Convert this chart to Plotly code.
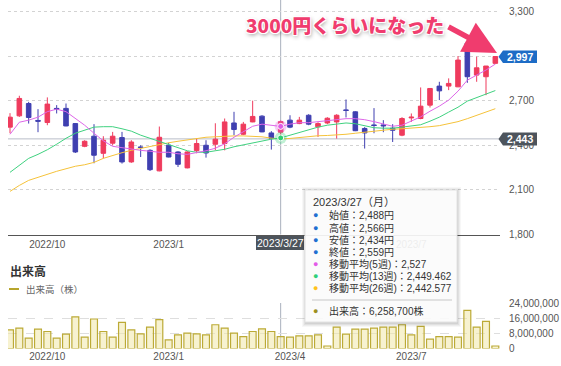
import plotly.graph_objects as go
import pandas as pd

# ---------------- data (weekly, Mondays) ----------------
week_start = "2022-09-05"
n_weeks = 53
open_ = [2522,2598,2681,2567,2553,2648,2648,2546,2393,2461,2346,2414,2452,2288,2389,2366,2228,2400,2355,2248,
         2364,2400,2407,2412,2550,2474,2557,2596,2483,2488,2569,2546,2602,2524,2550,2557,2638,2625,2513,2537,
         2537,2515,2468,2584,2580,2670,2798,2798,2793,3086,2872,2861,2951]
high = [2616,2733,2692,2643,2722,2670,2681,2548,2434,2542,2461,2490,2490,2434,2400,2373,2526,2417,2360,2360,
        2447,2434,2548,2580,2625,2557,2700,2602,2495,2566,2602,2591,2609,2555,2589,2609,2708,2629,2522,2650,
        2569,2542,2589,2614,2789,2784,2827,2850,3000,3088,2996,2933,2997]
low = [2481,2591,2546,2488,2535,2614,2528,2348,2387,2279,2312,2400,2277,2282,2321,2227,2225,2319,2254,2245,
       2346,2317,2366,2366,2468,2468,2555,2488,2371,2434,2515,2542,2535,2456,2542,2445,2587,2495,2378,2481,
       2488,2422,2461,2557,2575,2654,2704,2771,2791,2820,2827,2737,2946]
close = [2589,2715,2587,2562,2677,2643,2530,2355,2427,2333,2434,2461,2288,2422,2385,2236,2454,2321,2272,2355,
         2412,2348,2441,2557,2506,2542,2594,2490,2447,2559,2522,2569,2542,2546,2582,2602,2634,2498,2483,2533,
         2531,2501,2580,2589,2663,2782,2766,2816,2973,2861,2921,2933,2997]
ma5 = [2474,2555,2569,2589,2626,2643,2626,2582,2535,2481,2430,2393,2383,2377,2366,2360,2353,2353,2343,2339,
       2350,2363,2380,2410,2454,2491,2528,2542,2535,2527,2542,2552,2552,2559,2565,2569,2579,2579,2572,2559,
       2542,2528,2535,2562,2591,2629,2663,2704,2764,2838,2872,2906,2946]
ma13 = [2218,2265,2312,2339,2370,2407,2447,2481,2501,2522,2525,2525,2511,2495,2468,2447,2427,2407,2387,2363,
        2353,2353,2363,2373,2390,2403,2420,2429,2441,2449.462,2468,2488,2505,2522,2535,2545,2550,2545,2532,2518,
        2515,2515,2522,2528,2538,2562,2589,2623,2656,2697,2720,2744,2768]
ma26 = [2090,2130,2164,2184,2208,2225,2242,2259,2269,2285,2312,2333,2350,2366,2380,2393,2407,2417,2427,2437,
        2447,2454,2457,2461,2463,2463,2461,2457,2448,2442.577,2446,2453,2459,2464,2466,2469,2474,2481,2488,2495,
        2501,2508,2511,2515,2518,2525,2532,2545,2559,2579,2602,2626,2646]
volume = [9870000,10770000,5440000,10240000,8960000,5440000,7570000,16640000,5970000,15570000,
          8960000,5970000,13760000,9870000,7730000,11310000,15200000,4530000,7200000,8110000,
          7730000,7200000,12530000,10770000,8110000,6290000,8960000,10400000,8960000,6258700,
          5970000,6670000,6670000,7200000,1330000,11310000,7570000,10240000,10240000,10770000,
          11310000,11310000,12530000,7200000,11630000,4910000,6290000,6290000,5970000,20160000,
          11310000,14290000,1330000]
tick_dates = ["2022-10-03", "2023-01-02", "2023-04-03", "2023-07-03"]
tick_labels = ["2022/10", "2023/1", "2023/4", "2023/7"]
price_ticks = [1800, 2100, 2400, 2700, 3000, 3300]
vol_ticks = [0, 8000000, 16000000, 24000000]
hover_idx = 29
last_price = close[-1]
cross_price = 2443
callout = "3000円くらいになった"

dates = pd.date_range(week_start, periods=n_weeks, freq="7D")

# labels hidden under the hover badges in the original
price_ticktext = ["" if v == 3000 else f"{v:,}" for v in price_ticks]
top_x_ticktext = ["" if t == "2023/4" else t for t in tick_labels]

# ---------------- helpers ----------------
W, H = 561, 366
L, R = 8, 500
def px(x):
    return (x - L) / (R - L)
def py(y):
    return 1 - y / H

FONT = "Liberation Sans, Noto Sans CJK JP, sans-serif"
RED = "#ef3b5d"
BLUE = "#3f3fb0"
C5, C13, C26 = "#dd66e8", "#3fd17f", "#f5c23a"

fig = go.Figure()
fig.add_trace(go.Candlestick(
    x=dates, open=open_, high=high, low=low, close=close,
    increasing=dict(line=dict(color=RED, width=1), fillcolor=RED),
    decreasing=dict(line=dict(color=BLUE, width=1), fillcolor=BLUE),
    whiskerwidth=0, xaxis="x", yaxis="y", hoverinfo="skip"))
for vals, col in [(ma26, C26), (ma13, C13), (ma5, C5)]:
    fig.add_trace(go.Scatter(x=dates, y=vals, mode="lines",
                             line=dict(color=col, width=1), xaxis="x", yaxis="y",
                             hoverinfo="skip"))
hx = dates[hover_idx]
for val, col, halo in [(ma13[hover_idx], "#2fcf72", "rgba(47,207,114,0.3)"),
                       (ma5[hover_idx], "#e05ce6", "rgba(224,92,230,0.3)")]:
    fig.add_trace(go.Scatter(x=[hx], y=[val], mode="markers",
                             marker=dict(size=12, color=halo), xaxis="x", yaxis="y", hoverinfo="skip"))
    fig.add_trace(go.Scatter(x=[hx], y=[val], mode="markers",
                             marker=dict(size=6, color=col, line=dict(color="white", width=1)),
                             xaxis="x", yaxis="y", hoverinfo="skip"))

fig.add_trace(go.Bar(x=dates, y=volume, xaxis="x2", yaxis="y2",
                     width=7 * 24 * 3600 * 1000 * 0.74,
                     marker=dict(color="rgba(240,232,170,0.55)", line=dict(color="#bcaa36", width=1.2)),
                     hoverinfo="skip"))

xr = ["2022-09-03 12:00", "2023-09-07 12:00"]
tickfont = dict(family=FONT, size=10, color="#555")
fig.update_layout(
    template="none",
    width=W, height=H, margin=dict(l=L, r=W - R, t=0, b=0, pad=0, autoexpand=False),
    paper_bgcolor="white", plot_bgcolor="white", showlegend=False,
    font=dict(family=FONT), hovermode=False, dragmode=False,
    xaxis=dict(domain=[0, 1], anchor="y", type="date", range=xr, tickvals=tick_dates,
               ticktext=top_x_ticktext, showgrid=False, showline=True, linecolor="#555",
               linewidth=1, ticks="", tickfont=tickfont, rangeslider=dict(visible=False),
               zeroline=False, automargin=False),
    yaxis=dict(domain=[py(234.5), 1], range=[1800, 3377], side="right", tickvals=price_ticks,
               ticktext=price_ticktext, gridcolor="#d3d3d3", griddash="dot", gridwidth=1,
               showline=False, zeroline=False, ticks="outside", ticklen=6,
               tickcolor="rgba(0,0,0,0)", tickfont=tickfont, automargin=False),
    xaxis2=dict(domain=[0, 1], anchor="y2", type="date", range=xr, tickvals=tick_dates,
                ticktext=tick_labels, showgrid=False, showline=False, ticks="",
                tickfont=tickfont, zeroline=False, automargin=False),
    yaxis2=dict(domain=[py(348.5), py(303)], range=[0, 24000000], side="right",
                tickvals=vol_ticks, tickformat=",", gridcolor="#dedede", griddash="dash",
                showline=False, zeroline=False, ticks="outside", ticklen=6,
                tickcolor="rgba(0,0,0,0)", tickfont=tickfont, automargin=False),
)

shapes = []
shapes.append(dict(type="line", xref="x", yref="paper", x0=hx, x1=hx, y0=py(234.5), y1=1,
                   line=dict(color="#a9b0bd", width=1), layer="between"))
shapes.append(dict(type="line", xref="x2", yref="paper", x0=hx, x1=hx, y0=py(348.5), y1=py(303),
                   line=dict(color="#a9b0bd", width=1), layer="between"))
shapes.append(dict(type="line", xref="paper", yref="y", x0=0, x1=1, y0=cross_price, y1=cross_price,
                   line=dict(color="#b9bec8", width=1), layer="between"))
shapes.append(dict(type="line", xref="paper", yref="y", x0=0, x1=1, y0=last_price, y1=last_price,
                   line=dict(color="#8c9bd6", width=1.2, dash="dot"), layer="between"))

def badge(x0, x1, y0, y1, color, arrow=True):
    shapes.append(dict(type="rect", xref="paper", yref="paper", x0=px(x0), x1=px(x1),
                       y0=py(y1), y1=py(y0), fillcolor=color, line=dict(width=0), layer="above"))
    if arrow:
        ym = (y0 + y1) / 2
        path = f"M {px(x0-4.5)},{py(ym)} L {px(x0)},{py(y0)} L {px(x0)},{py(y1)} Z"
        shapes.append(dict(type="path", xref="paper", yref="paper", path=path,
                           fillcolor=color, line=dict(width=0), layer="above"))

badge(503, 537, 50.5, 63, "#1d6cc6")
badge(503, 537, 132.5, 145.5, "#4d545c")
badge(256, 304, 236, 250, "#4d545c", arrow=False)

bx0, bx1, by0, by1 = 305, 457, 190, 322
for d, a in [(4, 0.03), (3, 0.04), (2, 0.05), (1, 0.06)]:
    shapes.append(dict(type="rect", xref="paper", yref="paper", x0=px(bx0 - d + 1), x1=px(bx1 + d),
                       y0=py(by1 + d + 1), y1=py(by0 - d + 1), fillcolor=f"rgba(0,0,0,{a})",
                       line=dict(width=0), layer="above"))
shapes.append(dict(type="rect", xref="paper", yref="paper", x0=px(bx0), x1=px(bx1),
                   y0=py(by1), y1=py(by0), fillcolor="rgba(255,255,255,0.9)",
                   line=dict(color="#e2e2e2", width=1), layer="above"))
shapes.append(dict(type="line", xref="paper", yref="paper", x0=px(312), x1=px(452),
                   y0=py(300), y1=py(300), line=dict(color="#d8d8d8", width=1.5), layer="above"))
shapes.append(dict(type="line", xref="paper", yref="paper", x0=px(9), x1=px(19),
                   y0=py(289), y1=py(289), line=dict(color="#b7a52c", width=2)))
fig.update_layout(shapes=shapes)

ann = []
def txt(x, y, s, size=10, color="#333", anchor="left", weight="normal", family=FONT, shadow=None):
    f = dict(size=size, color=color, family=family, weight=weight)
    if shadow:
        f["shadow"] = shadow
    ann.append(dict(xref="paper", yref="paper", x=px(x), y=py(y), text=s, showarrow=False,
                    xanchor=anchor, yanchor="middle", font=f))

txt(520, 56.8, f"{last_price:,}", 10.5, "white", "center", "bold")
txt(520, 139, f"{cross_price:,}", 10.5, "white", "center", "bold")
d = dates[hover_idx]
txt(280, 243.2, f"{d.year}/{d.month}/{d.day}", 10.5, "white", "center")

wd = "月火水木金土日"[d.weekday()]
txt(311, 202, f"{d.year}/{d.month}/{d.day}（{wd}）", 11, "#333")
rows = [("#1f6fd1", f"始値：{open_[hover_idx]:,}円", 215),
        ("#1f6fd1", f"高値：{high[hover_idx]:,}円", 227.5),
        ("#1f6fd1", f"安値：{low[hover_idx]:,}円", 239.5),
        ("#1f6fd1", f"終値：{close[hover_idx]:,}円", 251.5),
        ("#e35be8", f"移動平均(5週)：{ma5[hover_idx]:,}", 263.5),
        ("#2fd07a", f"移動平均(13週)：{ma13[hover_idx]:,.3f}", 275.5),
        ("#ffc21a", f"移動平均(26週)：{ma26[hover_idx]:,.3f}", 287.5),
        ("#9c8f1e", f"出来高：{volume[hover_idx]:,}株", 311)]
for col, s, y in rows:
    txt(315, y, "●", 9, col, "center")
    txt(327, y, s, 10, "#333")

txt(8, 271, "出来高", 12, "#333", weight="bold")
txt(24, 289, "出来高（株）", 9.5, "#666")

PINK = "#f03c6e"
ann.append(dict(xref="paper", yref="paper", x=px(497), y=py(53), ax=-50, ay=-27, text="",
                showarrow=True, arrowhead=2, arrowsize=1.2, arrowwidth=5.5, arrowcolor=PINK,
                standoff=0, startstandoff=0))
txt(345, 25, callout, 19, PINK, "center", 900, family="Noto Sans CJK JP, sans-serif",
    shadow="-1px -1px 0 #fff, 1px -1px 0 #fff, -1px 1px 0 #fff, 1px 1px 0 #fff, 1px 2px 4px rgba(0,0,0,0.45)")

fig.update_layout(annotations=ann)
fig.write_html("out.html", config={"displayModeBar": False, "staticPlot": True},
               post_script="document.body.style.margin='0';document.body.style.overflow='hidden';")
